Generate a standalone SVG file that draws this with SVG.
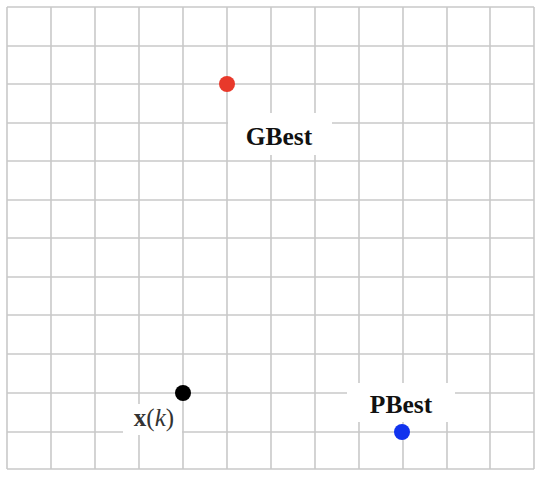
<svg xmlns="http://www.w3.org/2000/svg" width="540" height="477" viewBox="0 0 540 477">
<style>
.grid line{stroke:#c9c9c9;stroke-width:1.6}
.lbl{font-family:"Liberation Serif",serif;font-weight:bold;fill:#111}
.mask{fill:#fff}
</style>
<rect width="540" height="477" fill="#fff"/>
<g id="grid" class="grid">
<line x1="7" y1="7" x2="7" y2="469"/><line x1="51" y1="7" x2="51" y2="469"/><line x1="95" y1="7" x2="95" y2="469"/><line x1="139" y1="7" x2="139" y2="469"/><line x1="183" y1="7" x2="183" y2="469"/><line x1="227" y1="7" x2="227" y2="469"/><line x1="271" y1="7" x2="271" y2="469"/><line x1="315" y1="7" x2="315" y2="469"/><line x1="359" y1="7" x2="359" y2="469"/><line x1="403" y1="7" x2="403" y2="469"/><line x1="447" y1="7" x2="447" y2="469"/><line x1="490" y1="7" x2="490" y2="469"/><line x1="534" y1="7" x2="534" y2="469"/>
<line x1="7" y1="7" x2="534" y2="7"/><line x1="7" y1="46" x2="534" y2="46"/><line x1="7" y1="84" x2="534" y2="84"/><line x1="7" y1="123" x2="534" y2="123"/><line x1="7" y1="161" x2="534" y2="161"/><line x1="7" y1="200" x2="534" y2="200"/><line x1="7" y1="238" x2="534" y2="238"/><line x1="7" y1="277" x2="534" y2="277"/><line x1="7" y1="315" x2="534" y2="315"/><line x1="7" y1="354" x2="534" y2="354"/><line x1="7" y1="393" x2="534" y2="393"/><line x1="7" y1="432" x2="534" y2="432"/><line x1="7" y1="469" x2="534" y2="469"/>
</g>
<g id="connectors"></g>
<g id="gbest">
<rect class="mask" x="228" y="113" width="104" height="42"/>
<circle cx="227" cy="84" r="8" fill="#e8392b"/>
<text class="lbl" x="279" y="145" font-size="25.5" text-anchor="middle">GBest</text>
</g>
<g id="xk">
<rect class="mask" x="123" y="404" width="59" height="31"/>
<circle cx="183" cy="393" r="8" fill="#000"/>
<text x="154" y="426" font-size="25" text-anchor="middle" font-family="Liberation Serif,serif" fill="#333"><tspan font-weight="bold">x</tspan>(<tspan font-style="italic">k</tspan>)</text>
</g>
<g id="pbest">
<rect class="mask" x="347" y="383" width="108" height="39"/>
<circle cx="402" cy="432" r="8" fill="#1133ee"/>
<text class="lbl" x="401" y="413" font-size="25.5" text-anchor="middle">PBest</text>
</g>
</svg>
